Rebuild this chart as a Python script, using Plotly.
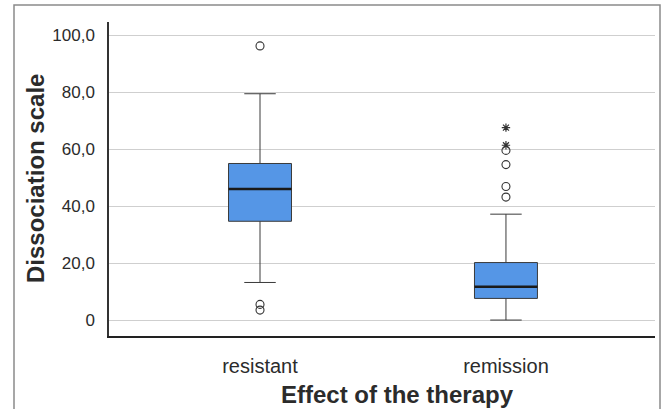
import plotly.graph_objects as go

categories = ["resistant", "remission"]
positions = [0, 1]
q1 = [34.7, 7.6]
median = [46.0, 11.7]
q3 = [55.0, 20.2]
lower_whisker = [13.2, 0.0]
upper_whisker = [79.5, 37.2]
outliers_circle = [[96.3, 5.5, 3.5], [43.2, 46.9, 54.6, 59.6]]
outliers_star = [[], [61.4, 67.6]]
y_ticks = [0, 20, 40, 60, 80, 100]
y_tick_labels = ["0", "20,0", "40,0", "60,0", "80,0", "100,0"]

BOX_W = 0.256
FONT = "Liberation Sans, Arial, sans-serif"

fig = go.Figure()
fig.add_trace(go.Box(
    x=positions, q1=q1, median=median, q3=q3,
    lowerfence=lower_whisker, upperfence=upper_whisker,
    width=BOX_W, whiskerwidth=0.5, boxpoints=False,
    fillcolor="#5596e6", line=dict(color="#3a3a3a", width=1),
    showlegend=False, hoverinfo="skip",
))
for p, m in zip(positions, median):
    fig.add_trace(go.Scatter(
        x=[p - BOX_W / 2, p + BOX_W / 2], y=[m, m], mode="lines",
        line=dict(color="#1a1a1a", width=2.5), showlegend=False, hoverinfo="skip",
    ))
for p, vals in zip(positions, outliers_circle):
    fig.add_trace(go.Scatter(
        x=[p] * len(vals), y=vals, mode="markers",
        marker=dict(symbol="circle-open", size=8, color="#333333", line=dict(width=1.1)),
        showlegend=False, hoverinfo="skip",
    ))
for p, vals in zip(positions, outliers_star):
    if vals:
        fig.add_trace(go.Scatter(
            x=[p] * len(vals), y=vals, mode="markers",
            marker=dict(symbol="asterisk-open", size=7, color="#333333", line=dict(width=1.2, color="#333333")),
            showlegend=False, hoverinfo="skip",
        ))

fig.update_layout(
    width=670, height=409,
    margin=dict(l=109, r=15, t=22, b=73),
    paper_bgcolor="white", plot_bgcolor="white",
    font=dict(family=FONT, color="#2b2b2b"),
    xaxis=dict(
        range=[-0.614, 1.606], tickvals=positions, ticktext=categories,
        showgrid=False, zeroline=False, showline=True, linecolor="#222222", linewidth=2,
        tickfont=dict(size=20, color="#2b2b2b"), ticks="", ticklabelstandoff=11,
    ),
    yaxis=dict(
        range=[-5.6, 104.7], tickvals=y_ticks, ticktext=y_tick_labels,
        showgrid=True, gridcolor="#cfcfcf", gridwidth=1, zeroline=False,
        showline=True, linecolor="#333333", linewidth=1.5,
        tickfont=dict(size=17, color="#2b2b2b"), ticks="", ticklabelstandoff=9,
    ),
    annotations=[
        dict(text="<b>Effect of the therapy</b>", xref="paper", yref="paper",
             x=(397 - 109) / 546, y=-(394 - 336) / 314, xanchor="center", yanchor="middle",
             showarrow=False, font=dict(size=24, color="#2b2b2b", family=FONT)),
        dict(text="<b>Dissociation scale</b>", xref="paper", yref="paper",
             x=(35 - 109) / 546, y=0.5, xanchor="center", yanchor="middle", textangle=-90,
             showarrow=False, font=dict(size=24, color="#2b2b2b", family=FONT)),
    ],
    shapes=[
        dict(type="rect", xref="paper", yref="paper",
             x0=(14 - 109) / 546, x1=(660 - 109) / 546,
             y0=-(420 - 336) / 314, y1=(336 - 5) / 314,
             line=dict(color="#8a8a8a", width=1.5), fillcolor="rgba(0,0,0,0)", layer="below"),
    ],
)

fig.write_html(
    "out.html",
    config={"displayModeBar": False},
    post_script="document.body.style.margin='0';document.body.style.padding='0';document.body.style.overflow='hidden';",
)
